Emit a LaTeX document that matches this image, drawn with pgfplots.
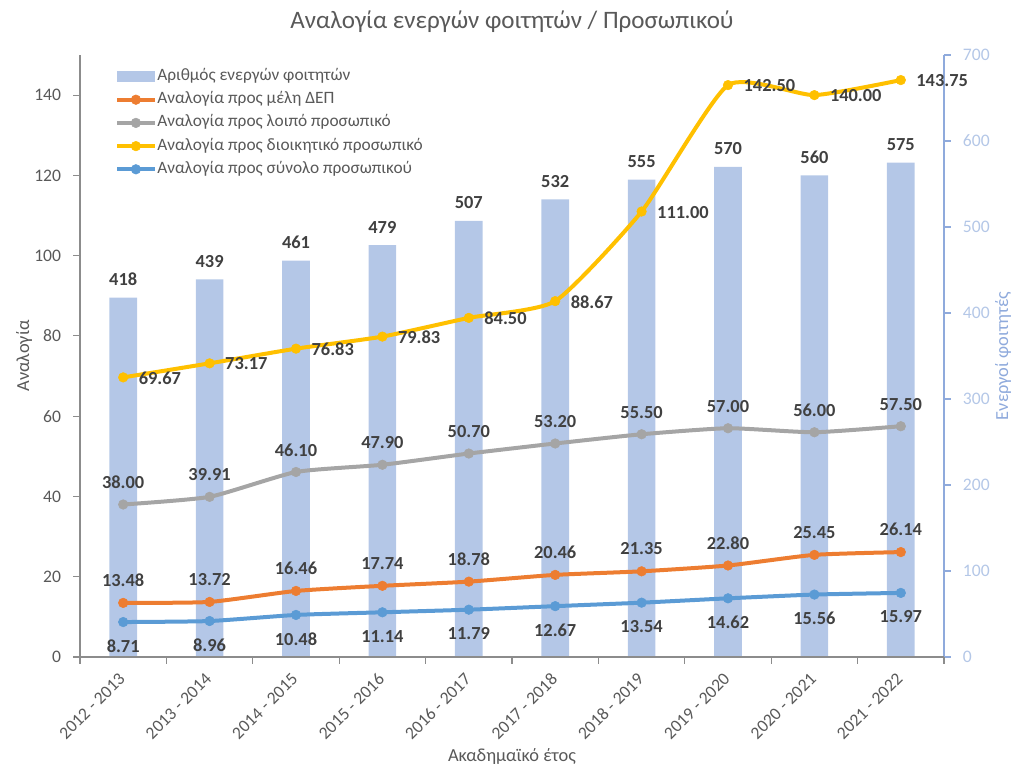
\documentclass[border=0pt]{standalone}
\usepackage{pgfplots}
\pgfplotsset{compat=1.18}
\usepackage{fontspec}
\setmainfont{Carlito}
\usetikzlibrary{calc}

\definecolor{barblue}{HTML}{B4C7E7}
\definecolor{orangeS}{HTML}{ED7D31}
\definecolor{grayS}{HTML}{A5A5A5}
\definecolor{yellowS}{HTML}{FFC000}
\definecolor{blueS}{HTML}{5B9BD5}
\definecolor{txt}{HTML}{595959}
\definecolor{lbl}{HTML}{404040}
\definecolor{raxis}{HTML}{8FAADC}
\definecolor{laxis}{HTML}{8C8C8C}

\pgfplotsset{
  /pgf/number format/assume math mode=true,
  base/.style={
    scale only axis, width=648pt, height=451.5pt,
    xmin=-0.5, xmax=9.5,
    tick align=outside,
    tick label style={font=\fontsize{13.2}{15}\selectfont, text=txt},
    label style={font=\fontsize{13.8}{16}\selectfont},
  },
  lab/.style={
    nodes near coords={\pgfmathprintnumber[fixed,fixed zerofill,precision=2]{\pgfplotspointmeta}},
    every node near coord/.append style={font=\fontsize{13.8}{15}\selectfont\bfseries, text=lbl, inner sep=0pt, #1}},
  ln/.style={smooth, tension=0.33, line width=3pt, mark=*, mark size=3.6pt,
    mark options={line width=0.4pt}, color=#1},
}

\begin{document}
\begin{tikzpicture}
% students, right axis (drawn first so the bars sit behind the lines)
\begin{axis}[base,
  axis x line=none, axis y line*=right,
  ymin=0, ymax=700, ytick={0,100,...,700},
  y axis line style={draw=raxis, line width=0.8pt, -},
  ytick style={draw=raxis, line width=0.8pt}, major tick length=5pt,
  yticklabel style={text=barblue, inner xsep=0pt, xshift=9pt},
  ylabel={Ενεργοί φοιτητές},
  ylabel style={at={(axis description cs:1.0683,0.5)}, anchor=center, text=raxis},
]
\addplot[ybar, bar width=0.32, fill=barblue, draw=none,
  nodes near coords={\pgfmathprintnumber[fixed,precision=0]{\pgfplotspointmeta}},
  every node near coord/.append style={font=\fontsize{13.8}{15}\selectfont\bfseries, text=lbl, inner sep=0pt, anchor=center, yshift=13.5pt}]
  coordinates {(0,418) (1,439) (2,461) (3,479) (4,507) (5,532) (6,555) (7,570) (8,560) (9,575)};
\end{axis}

% ratios, left axis
\begin{axis}[base,
  axis x line*=bottom, axis y line*=left,
  ymin=0, ymax=150, ytick={0,20,...,140},
  xtick={0,...,9},
  xticklabels={2012 - 2013, 2013 - 2014, 2014 - 2015, 2015 - 2016, 2016 - 2017,
    2017 - 2018, 2018 - 2019, 2019 - 2020, 2020 - 2021, 2021 - 2022},
  minor xtick={-0.5,0.5,...,9.5},
  major x tick style={draw=none},
  major tick length=5pt, minor tick length=5pt,
  axis line style={draw=laxis, line width=0.8pt, -},
  tick style={draw=laxis, line width=0.8pt},
  xticklabel style={xshift=-4pt, yshift=-6pt, rotate=45, anchor=north east, inner sep=0pt},
  yticklabel style={inner xsep=0pt, xshift=-9pt},
  clip=false,
  title={Αναλογία ενεργών φοιτητών / Προσωπικού},
  title style={at={(axis description cs:0.5,1.042)}, anchor=center, text=txt, font=\fontsize{18.8}{21}\selectfont},
  xlabel={Ακαδημαϊκό έτος},
  xlabel style={at={(axis description cs:0.5,-0.166)}, anchor=center, text=txt},
  ylabel={Αναλογία},
  ylabel style={at={(axis description cs:-0.0648,0.5)}, anchor=center, text=txt},
  legend image code/.code={\draw[mark repeat=2,mark phase=2,#1] plot coordinates {(0pt,0pt) (14pt,0pt) (28pt,0pt)};},
  legend cell align=left,
  legend style={at={(axis description cs:0.0405,0.978)}, anchor=north west, draw=none, fill=none,
    font=\fontsize{13}{15}\selectfont, text=txt, row sep=5.4pt, inner sep=0pt,
    nodes={inner xsep=0.5pt, inner ysep=0pt, text height=9pt, text depth=3pt}},
]
\addlegendimage{legend image code/.code={\fill[barblue] (0pt,-3.75pt) rectangle (28pt,3.75pt);}}

\addplot[ln=orangeS, lab={anchor=center, yshift=17pt}] coordinates {
  (0,13.48) (1,13.72) (2,16.46) (3,17.74) (4,18.78) (5,20.46) (6,21.35) (7,22.80) (8,25.45) (9,26.14)};
\addplot[ln=grayS, lab={anchor=center, yshift=16.5pt}] coordinates {
  (0,38.00) (1,39.91) (2,46.10) (3,47.90) (4,50.70) (5,53.20) (6,55.50) (7,57.00) (8,56.00) (9,57.50)};
\addplot[ln=yellowS, lab={anchor=west, xshift=11.5pt, yshift=-0.5pt}] coordinates {
  (0,69.67) (1,73.17) (2,76.83) (3,79.83) (4,84.50) (5,88.67) (6,111.00) (7,142.50) (8,140.00) (9,143.75)};
\addplot[ln=blueS, lab={anchor=center, yshift=-18pt}] coordinates {
  (0,8.71) (1,8.96) (2,10.48) (3,11.14) (4,11.79) (5,12.67) (6,13.54) (7,14.62) (8,15.56) (9,15.97)};

\legend{Αριθμός ενεργών φοιτητών, Αναλογία προς μέλη ΔΕΠ, Αναλογία προς λοιπό προσωπικό,
  Αναλογία προς διοικητικό προσωπικό, Αναλογία προς σύνολο προσωπικού}
\end{axis}
\pgfresetboundingbox
\path ($(current axis.south west)+(-60pt,-82.5pt)$) rectangle ($(current axis.north east)+(53.25pt,41.25pt)$);
\end{tikzpicture}
\end{document}
